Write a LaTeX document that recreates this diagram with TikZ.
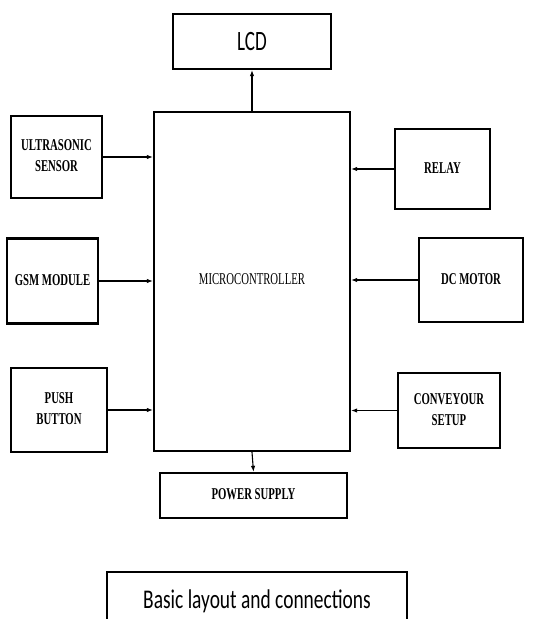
\documentclass[tikz,border=0pt]{standalone}
\usepackage{fontspec}
\setmainfont{Liberation Serif}
\newfontfamily\calib{Carlito}
\usetikzlibrary{arrows.meta}
\newcommand{\sqz}[1]{\scalebox{0.65}[1]{\begin{tabular}{@{}c@{}}#1\end{tabular}}}
\tikzset{
  blk/.style={draw, line width=2.3pt, inner sep=0pt, font=\fontsize{16.5}{21}\selectfont\bfseries},
  arr/.style={line width=1.1pt, -{Latex[length=6pt,width=4.5pt]}},
}
\begin{document}
\begin{tikzpicture}[x=1pt,y=-1pt]
\useasboundingbox (0,0) rectangle (554,619);
\clip (0,0) rectangle (554,619);
\node[blk, font=\calib\fontsize{28}{30}\selectfont, minimum width=158pt, minimum height=55pt] (lcd) at (252,41.5) {\scalebox{0.68}[1]{LCD}};
\node[blk, font=\fontsize{16.5}{17}\selectfont, minimum width=196pt, minimum height=339pt] (mc) at (252,281.5) {\sqz{MICROCONTROLLER}};
\node[blk, minimum width=91pt, minimum height=82pt] (us) at (56.5,157) {\sqz{ULTRASONIC\\SENSOR}};
\node[blk, minimum width=91pt, minimum height=85pt] (gsm) at (52.5,281) {\sqz{GSM MODULE}};
\node[blk, minimum width=96pt, minimum height=84pt] (pb) at (59,410) {\sqz{PUSH\\BUTTON}};
\node[blk, minimum width=95pt, minimum height=80pt] (rl) at (442.5,169) {\sqz{RELAY}};
\node[blk, minimum width=104pt, minimum height=84pt] (dc) at (471,280) {\sqz{DC MOTOR}};
\node[blk, minimum width=102pt, minimum height=75pt] (cv) at (449,410.5) {\sqz{CONVEYOUR\\SETUP}};
\node[blk, minimum width=187pt, minimum height=45pt] (ps) at (253.5,495.5) {\sqz{POWER SUPPLY}};
\node[blk, font=\calib\fontsize{27}{29}\selectfont, minimum width=300pt, minimum height=60pt] (cap) at (257,602) {\raisebox{6pt}{\scalebox{0.72}[1]{Basic layout and connections}}};
\draw[arr] (mc.north) -- (lcd.south);
\draw[arr] (mc.south) -- (ps.north);
\draw[arr] (us.east) -- (us.east -| mc.west);
\draw[arr] (gsm.east) -- (gsm.east -| mc.west);
\draw[arr] (pb.east) -- (pb.east -| mc.west);
\draw[arr] (rl.west) -- (rl.west -| mc.east);
\draw[arr] (dc.west) -- (dc.west -| mc.east);
\draw[arr] (cv.west) -- (cv.west -| mc.east);
\end{tikzpicture}
\end{document}
